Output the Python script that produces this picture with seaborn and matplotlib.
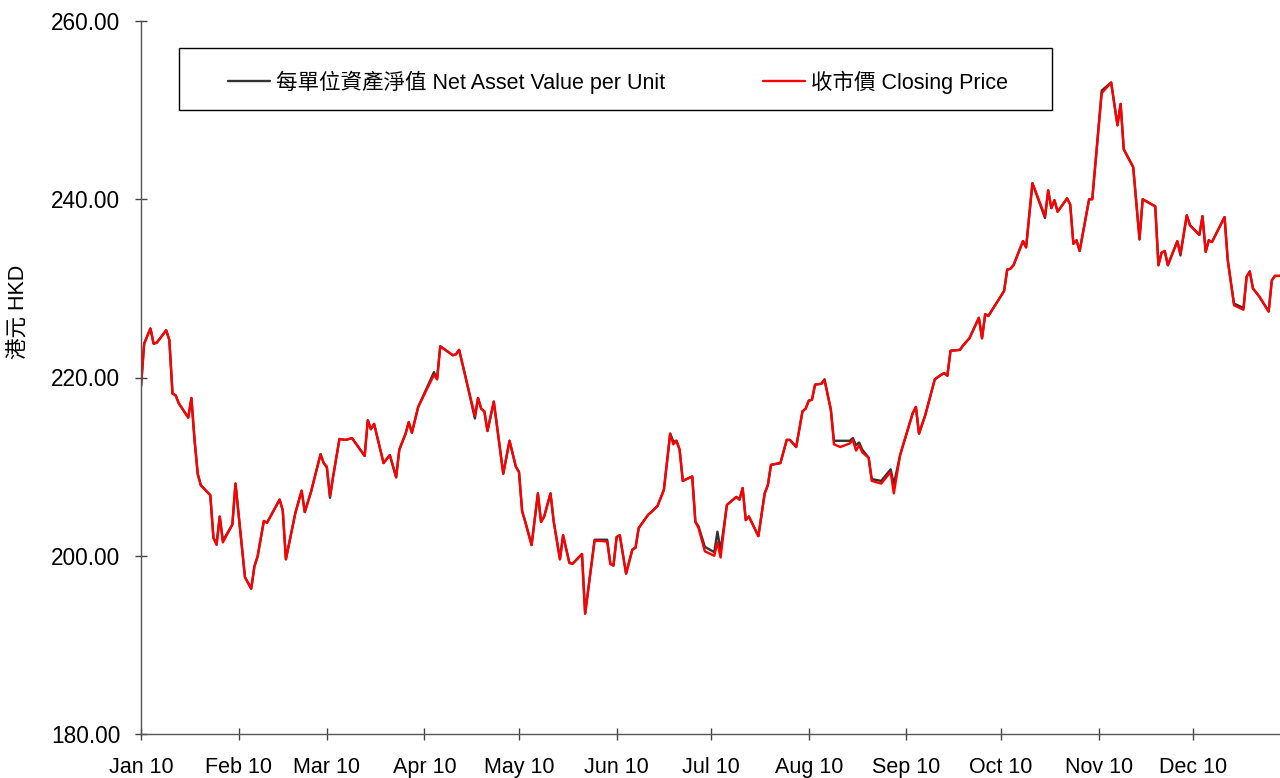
import numpy as np
import pandas as pd
import matplotlib
matplotlib.use("Agg")
import matplotlib.pyplot as plt
import matplotlib.dates as mdates
from matplotlib.patches import Rectangle
from matplotlib.ticker import FormatStrFormatter
import seaborn as sns

# ---------------- data ----------------
dates = [
    "01-01", "01-02", "01-04", "01-05", "01-06", "01-09", "01-10", "01-11", "01-12", "01-13",
    "01-16", "01-17", "01-18", "01-19", "01-20", "01-23", "01-24", "01-25", "01-26", "01-27",
    "01-30", "01-31", "02-03", "02-05", "02-06", "02-07", "02-09", "02-10", "02-14", "02-15",
    "02-16", "02-19", "02-21", "02-22", "02-24", "02-27", "02-28", "03-01", "03-02", "03-03",
    "03-05", "03-07", "03-09", "03-13", "03-14", "03-15", "03-16", "03-19", "03-21", "03-23",
    "03-24", "03-26", "03-27", "03-28", "03-30", "04-04", "04-05", "04-06", "04-10", "04-11",
    "04-12", "04-14", "04-17", "04-18", "04-19", "04-20", "04-21", "04-23", "04-26", "04-28",
    "04-30", "05-01", "05-02", "05-03", "05-05", "05-07", "05-08", "05-09", "05-11", "05-12",
    "05-14", "05-15", "05-17", "05-18", "05-21", "05-22", "05-25", "05-29", "05-30", "05-31",
    "06-01", "06-02", "06-04", "06-06", "06-07", "06-08", "06-11", "06-12", "06-14", "06-16",
    "06-18", "06-19", "06-20", "06-21", "06-22", "06-25", "06-26", "06-27", "06-29", "07-02",
    "07-03", "07-04", "07-06", "07-09", "07-10", "07-11", "07-12", "07-13", "07-16", "07-18",
    "07-19", "07-20", "07-23", "07-25", "07-26", "07-28", "07-30", "07-31", "08-01", "08-02",
    "08-03", "08-05", "08-06", "08-08", "08-09", "08-11", "08-14", "08-15", "08-16", "08-17",
    "08-18", "08-20", "08-21", "08-24", "08-27", "08-28", "08-30", "09-03", "09-04", "09-05",
    "09-07", "09-10", "09-12", "09-13", "09-14", "09-15", "09-18", "09-19", "09-21", "09-24",
    "09-25", "09-26", "09-27", "10-02", "10-03", "10-04", "10-05", "10-08", "10-09", "10-11",
    "10-15", "10-16", "10-17", "10-18", "10-19", "10-22", "10-23", "10-24", "10-25", "10-26",
    "10-29", "10-30", "11-02", "11-05", "11-07", "11-08", "11-09", "11-12", "11-14", "11-15",
    "11-19", "11-20", "11-21", "11-22", "11-23", "11-26", "11-27", "11-29", "11-30", "12-03",
    "12-04", "12-05", "12-06", "12-07", "12-11", "12-12", "12-14", "12-17", "12-18", "12-19",
    "12-20", "12-22", "12-25", "12-26", "12-27", "12-29",
]

closing_price = [
    219.0, 223.8, 225.5, 223.8, 223.9, 225.3, 224.2, 218.2, 218.0, 217.1,
    215.5, 217.7, 213.0, 209.2, 207.9, 206.8, 202.0, 201.2, 204.4, 201.5,
    203.5, 208.1, 197.6, 196.3, 198.8, 199.9, 203.9, 203.7, 206.3, 205.1,
    199.6, 204.8, 207.3, 204.9, 207.2, 211.4, 210.4, 210.0, 206.7, 208.9,
    213.1, 213.0, 213.2, 211.2, 215.2, 214.2, 214.8, 210.4, 211.3, 208.8,
    211.9, 213.7, 215.0, 213.8, 216.7, 220.3, 219.8, 223.5, 222.5, 222.6,
    223.1, 220.1, 215.7, 217.7, 216.5, 216.2, 214.0, 217.3, 209.2, 212.9,
    210.0, 209.4, 205.0, 203.8, 201.2, 207.0, 203.8, 204.4, 207.0, 203.9,
    199.6, 202.3, 199.2, 199.1, 200.2, 193.5, 201.7, 201.6, 199.1, 198.9,
    202.1, 202.3, 198.0, 200.7, 200.9, 203.1, 204.6, 204.9, 205.6, 207.4,
    213.7, 212.5, 212.9, 211.9, 208.4, 208.9, 203.8, 203.1, 200.5, 200.0,
    201.5, 199.8, 205.7, 206.6, 206.3, 207.6, 204.0, 204.4, 202.2, 207.0,
    207.9, 210.2, 210.4, 213.0, 213.0, 212.2, 216.2, 216.5, 217.4, 217.5,
    219.2, 219.3, 219.7, 216.4, 212.5, 212.2, 212.6, 213.0, 211.8, 212.4,
    211.6, 211.0, 208.4, 208.1, 209.4, 207.0, 211.3, 216.0, 216.7, 213.7,
    215.8, 219.8, 220.3, 220.5, 220.2, 223.0, 223.1, 223.6, 224.4, 226.7,
    224.4, 227.1, 226.9, 229.7, 232.1, 232.2, 232.6, 235.3, 234.6, 241.8,
    238.1, 241.0, 239.0, 239.9, 238.6, 240.1, 239.4, 235.0, 235.4, 234.2,
    240.0, 240.0, 251.9, 253.1, 248.3, 250.7, 245.6, 243.6, 235.5, 240.0,
    239.2, 232.6, 234.0, 234.2, 232.6, 235.3, 233.9, 238.2, 237.1, 236.0,
    238.1, 234.1, 235.4, 235.2, 238.0, 233.2, 228.1, 227.6, 231.3, 231.9,
    230.0, 229.1, 227.4, 230.9, 231.4, 231.4,
]

nav_per_unit = [
    219.0, 223.8, 225.5, 223.8, 223.9, 225.3, 224.2, 218.2, 218.0, 217.1,
    215.5, 217.7, 213.0, 209.2, 207.9, 206.8, 202.0, 201.4, 204.4, 201.7,
    203.5, 208.1, 197.6, 196.3, 198.8, 199.9, 203.9, 203.7, 206.3, 205.1,
    199.6, 204.8, 207.3, 204.9, 207.2, 211.4, 210.4, 209.9, 206.5, 208.9,
    213.1, 213.0, 213.2, 211.2, 215.2, 214.2, 214.8, 210.4, 211.3, 208.8,
    211.9, 213.7, 215.0, 213.8, 216.7, 220.6, 219.8, 223.5, 222.5, 222.6,
    223.1, 220.1, 215.4, 217.7, 216.5, 216.2, 214.0, 217.3, 209.2, 212.9,
    210.0, 209.4, 205.0, 203.8, 201.2, 207.0, 203.8, 204.4, 207.0, 203.9,
    199.6, 202.3, 199.2, 199.1, 200.2, 193.5, 201.8, 201.8, 199.1, 198.9,
    202.1, 202.3, 198.0, 200.7, 200.9, 203.1, 204.6, 204.9, 205.6, 207.4,
    213.7, 212.8, 212.9, 211.9, 208.4, 208.9, 203.8, 203.3, 201.0, 200.4,
    202.7, 200.6, 205.7, 206.6, 206.3, 207.6, 204.0, 204.4, 202.2, 207.0,
    207.9, 210.2, 210.4, 213.0, 213.0, 212.2, 216.2, 216.5, 217.4, 217.5,
    219.2, 219.3, 219.8, 216.4, 212.9, 212.9, 212.9, 213.2, 212.4, 212.7,
    211.9, 211.0, 208.6, 208.4, 209.7, 208.0, 211.3, 216.0, 216.7, 213.7,
    215.8, 219.8, 220.3, 220.5, 220.2, 223.0, 223.1, 223.6, 224.4, 226.7,
    224.4, 227.1, 226.9, 229.7, 232.1, 232.2, 232.6, 235.3, 234.6, 241.8,
    237.9, 241.0, 239.0, 239.9, 238.6, 240.1, 239.4, 235.0, 235.4, 234.2,
    240.0, 240.0, 252.2, 253.1, 248.3, 250.7, 245.6, 243.6, 235.5, 240.0,
    239.2, 232.6, 234.0, 234.2, 232.6, 235.3, 233.7, 238.2, 237.1, 236.0,
    238.1, 234.1, 235.4, 235.2, 238.0, 233.2, 228.3, 227.8, 231.3, 231.9,
    230.0, 229.1, 227.4, 230.9, 231.4, 231.4,
]

nav_label = "每單位資產淨值 Net Asset Value per Unit"
price_label = "收市價 Closing Price"
y_label = "港元 HKD"
y_ticks = [180, 200, 220, 240, 260]

# ---------------- styling ----------------
sns.set_theme(style="white")
plt.rcParams["font.family"] = ["Liberation Sans", "Noto Sans CJK TC", "DejaVu Sans"]
plt.rcParams["text.color"] = "black"
FS = 15.5

df = pd.DataFrame({
    "date": pd.to_datetime(["2010-" + d for d in dates]),
    "nav": nav_per_unit,
    "price": closing_price,
})

fig = plt.figure(figsize=(12.8, 7.78), dpi=100)
ax = fig.add_axes([141 / 1280, 1 - 734 / 778, (1280 - 141) / 1280, (734 - 21) / 778])

sns.lineplot(data=df, x="date", y="nav", ax=ax, color="#333333", lw=1.7,
             label=nav_label, legend=False)
sns.lineplot(data=df, x="date", y="price", ax=ax, color="#ff0000", lw=1.7,
             label=price_label, legend=False)

x0 = mdates.date2num(pd.Timestamp("2010-01-01"))
ax.set_xlim(x0, x0 + 361.6)
ax.set_ylim(180, 260)
ax.set_yticks(y_ticks)
ax.yaxis.set_major_formatter(FormatStrFormatter("%.2f"))
ax.xaxis.set_major_locator(mdates.MonthLocator())
ax.xaxis.set_major_formatter(mdates.DateFormatter("%b %y"))

ax.set_xlabel("")
ax.set_ylabel("")
for s in ["top", "right"]:
    ax.spines[s].set_visible(False)
for s in ["left", "bottom"]:
    ax.spines[s].set_color("#555555")
    ax.spines[s].set_linewidth(1.0)
ax.tick_params(axis="both", direction="inout", length=9, width=1.0,
               color="#444444", labelcolor="black",
               bottom=True, left=True, top=False, right=False)
ax.tick_params(axis="y", pad=10.5, labelsize=16.3)
ax.tick_params(axis="x", pad=12, labelsize=FS)

fig.text(18 / 1280, 1 - 312 / 778, y_label, rotation=90, ha="center", va="center",
         fontsize=FS, color="black")

# legend with a plain rectangular frame
handles, labels = ax.get_legend_handles_labels()
leg = ax.legend(handles, labels, ncol=2, frameon=False, loc="center left",
                bbox_to_anchor=((228 - 141) / 1139, (734 - 82) / 713),
                borderpad=0, borderaxespad=0, handlelength=1.95,
                handletextpad=0.28, columnspacing=4.53, fontsize=FS)
for t in leg.get_texts():
    t.set_color("black")
ax.add_patch(Rectangle(((179 - 141) / 1139, (734 - 110) / 713),
                       (1052 - 179) / 1139, 62 / 713, transform=ax.transAxes,
                       fill=False, edgecolor="black", lw=1.0, zorder=5))

fig.savefig("out.png", dpi=100)
